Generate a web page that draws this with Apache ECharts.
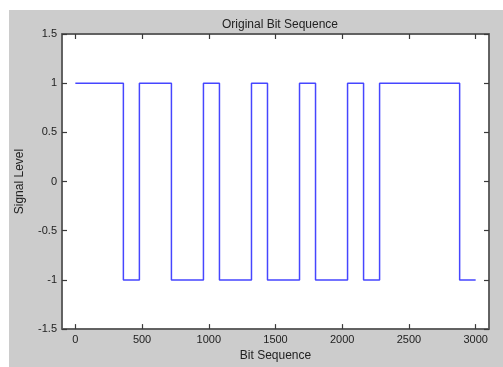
<!DOCTYPE html>
<html>
<head>
<meta charset="utf-8">
<script src="https://cdn.jsdelivr.net/npm/echarts@6/dist/echarts.min.js"></script>
<style>
html,body{margin:0;padding:0;background:#fff;}
#c{width:503px;height:367px;}
</style>
</head>
<body>
<div id="c"></div>
<script>
// Bit sequence: x position where each level starts, and the level held from there
const edgePositions = [0, 360, 480, 720, 960, 1080, 1320, 1440, 1680, 1800, 2040, 2160, 2280, 2880, 3000];
const signalLevels  = [1, -1, 1, -1, 1, -1, 1, -1, 1, -1, 1, -1, 1, -1, -1];
const xTickValues = [0, 500, 1000, 1500, 2000, 2500, 3000];
const yTickValues = [-1.5, -1, -0.5, 0, 0.5, 1, 1.5];

const seriesData = edgePositions.map((x, i) => [x, signalLevels[i]]);

const chart = echarts.init(document.getElementById('c'), null, {renderer: 'canvas'});
const font = 'Liberation Sans, Arial, Helvetica, sans-serif';
const tickStyle = {show: true, inside: true, length: 5, lineStyle: {color: '#3a3a3a', width: 1.2}};
const frameLine = {show: true, onZero: false, lineStyle: {color: '#5a5a5a', width: 1.5}};
const plainFmt = v => String(v);

chart.setOption({
  backgroundColor: '#ffffff',
  animation: false,
  graphic: [{
    type: 'rect', z: -10, silent: true,
    shape: {x: 9, y: 10, width: 494, height: 357},
    style: {fill: '#cccccc'}
  }],
  title: {
    text: 'Original Bit Sequence',
    left: 275, top: 14, textAlign: 'center',
    textStyle: {fontFamily: font, fontSize: 12, fontWeight: 'normal', color: '#222'}
  },
  grid: {
    left: 62, top: 34, width: 427, height: 303,
    show: true, backgroundColor: '#ffffff', borderColor: '#5a5a5a', borderWidth: 1.5,
    containLabel: false
  },
  xAxis: [{
    type: 'value', min: -100, max: 3100, position: 'bottom',
    name: 'Bit Sequence', nameLocation: 'middle', nameGap: 19,
    nameTextStyle: {fontFamily: font, fontSize: 12, color: '#222'},
    axisLine: frameLine,
    axisTick: Object.assign({customValues: xTickValues}, tickStyle),
    axisLabel: {customValues: xTickValues, formatter: plainFmt, margin: 5, fontFamily: font, fontSize: 11, color: '#222'},
    splitLine: {show: false}
  }, {
    type: 'value', min: -100, max: 3100, position: 'top',
    axisLine: frameLine,
    axisTick: Object.assign({customValues: xTickValues}, tickStyle),
    axisLabel: {show: false},
    splitLine: {show: false}
  }],
  yAxis: [{
    type: 'value', min: -1.5, max: 1.5, interval: 0.5, position: 'left',
    name: 'Signal Level', nameLocation: 'middle', nameGap: 36,
    nameTextStyle: {fontFamily: font, fontSize: 12, color: '#222'},
    axisLine: frameLine,
    axisTick: Object.assign({customValues: yTickValues}, tickStyle),
    axisLabel: {customValues: yTickValues, formatter: plainFmt, margin: 5, fontFamily: font, fontSize: 11, color: '#222'},
    splitLine: {show: false}
  }, {
    type: 'value', min: -1.5, max: 1.5, interval: 0.5, position: 'right',
    axisLine: frameLine,
    axisTick: Object.assign({customValues: yTickValues}, tickStyle),
    axisLabel: {show: false},
    splitLine: {show: false}
  }],
  series: [{
    type: 'line',
    xAxisIndex: 0, yAxisIndex: 0,
    step: 'end',
    showSymbol: false,
    symbol: 'none',
    data: seriesData,
    lineStyle: {color: '#4646ff', width: 1.5},
    z: 5
  }]
});
</script>
</body>
</html>
